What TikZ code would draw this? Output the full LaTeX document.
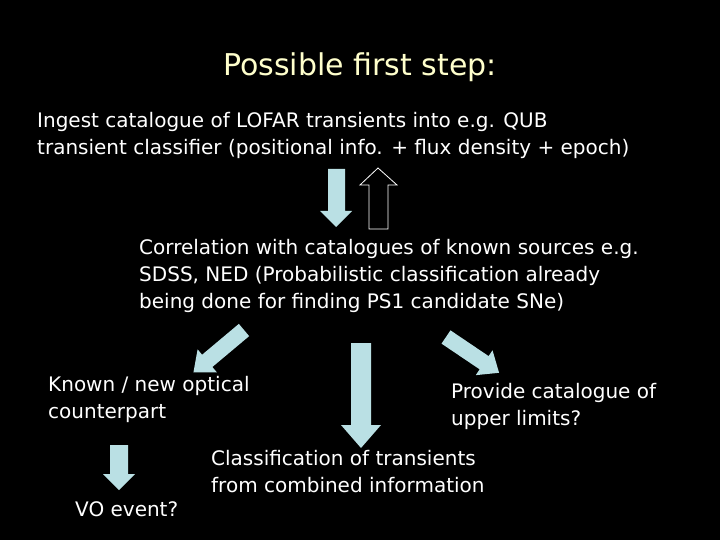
\documentclass[tikz,border=0pt]{standalone}
\usepackage{fontspec}
\setmainfont{DejaVu Sans}
\begin{document}
\begin{tikzpicture}[x=1bp,y=-1bp,
  txt/.style={text=white,font=\fontsize{20bp}{27bp}\selectfont,inner sep=0pt,anchor=north west,align=left},
  arrfill/.style={fill={rgb,255:red,186;green,224;blue,228}}]
\fill[black] (0,0) rectangle (720,540);
\node[text={rgb,255:red,255;green,255;blue,204},font=\fontsize{30bp}{34bp}\selectfont] (title) at (360,67) {Possible first step:};
\node[txt] (ingest) at (37,112) {Ingest catalogue of LOFAR transients into e.g. QUB\\transient classifier (positional info. + flux density + epoch)};
\node[txt] (corr) at (139,239) {Correlation with catalogues of known sources e.g.\\SDSS, NED (Probabilistic classification already\\being done for finding PS1 candidate SNe)};
\node[txt] (known) at (48,376) {Known / new optical\\counterpart};
\node[txt] (prov) at (451,383) {Provide catalogue of\\upper limits?};
\node[txt] (class) at (211,450) {Classification of transients\\from combined information};
\node[txt] (vo) at (75,501) {VO event?};
% down arrow
\fill[arrfill] (328,169) -- (345,169) -- (345,211) -- (352,211) -- (336,227) -- (320,211) -- (328,211) -- cycle;
% up outline arrow
\draw[white,line width=0.8bp] (378,168) -- (397,185) -- (388,185) -- (388,229) -- (369,229) -- (369,185) -- (360,185) -- cycle;
% centre down
\fill[arrfill] (351,343) -- (371,343) -- (371,425) -- (381,425) -- (361,448) -- (341,425) -- (351,425) -- cycle;
% small down left
\fill[arrfill] (110,445) -- (128,445) -- (128,474) -- (135,474) -- (119,490) -- (103,474) -- (110,474) -- cycle;
% diagonal left
\begin{scope}[shift={(244,330)},rotate=-140]
\fill[arrfill] (0,-8) -- (48,-8) -- (48,-15) -- (66,0) -- (48,15) -- (48,8) -- (0,8) -- cycle;
\end{scope}
% diagonal right
\begin{scope}[shift={(446,337)},rotate=-34]
\fill[arrfill] (0,-8) -- (46,-8) -- (46,-15) -- (64,0) -- (46,15) -- (46,8) -- (0,8) -- cycle;
\end{scope}
\end{tikzpicture}
\end{document}
